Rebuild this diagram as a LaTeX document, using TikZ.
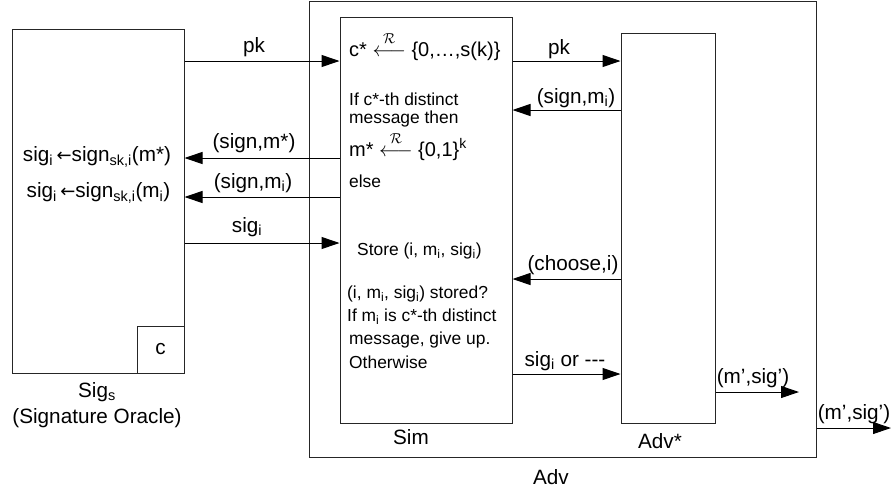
\documentclass[tikz,border=0pt]{standalone}
\usepackage{amsmath}
\usepackage{fontspec}
\setmainfont{Liberation Sans}
\newfontfamily\dejavu{DejaVu Sans}
\usetikzlibrary{arrows.meta}
\newcommand\dn[1]{\textsubscript{#1}}
\newcommand\up[1]{\textsuperscript{#1}}
\newcommand\larr{{\fontsize{18}{20}\selectfont\dejavu ←}}
\newcommand\rarr{$\overset{\raisebox{1pt}{$\scriptstyle\mathcal{R}$}}{\longleftarrow}$}
\begin{document}
\begin{tikzpicture}[x=1pt,y=-1pt,
  box/.style={draw=black!85, line width=1pt, inner sep=0pt, rectangle},
  arr/.style={-{Triangle[length=18pt,width=12pt]}, line width=1pt},
  lbl/.style={font=\fontsize{20.7}{24}\selectfont, inner sep=0pt},
  txt/.style={font=\fontsize{17.4}{20}\selectfont, inner sep=0pt, anchor=west},
  big/.style={font=\fontsize{20}{24}\selectfont, inner sep=0pt, anchor=west}]
\useasboundingbox (0,0) rectangle (892,491);
% boxes
\node[box, minimum width=172pt, minimum height=344pt] (sig) at (98,201) {};
\node[box, minimum width=47pt, minimum height=47pt] (c) at (160.5,349.5) {};
\node[lbl] at (c.center) {c};
\node[box, minimum width=507pt, minimum height=456pt] (adv) at (562.5,229.5) {};
\node[box, minimum width=172pt, minimum height=406pt] (sim) at (426,220) {};
\node[box, minimum width=94pt, minimum height=390pt] (advs) at (668,228) {};
% box labels
\node[lbl] (sigl) at (97,392) {Sig\dn{s}};
\node[lbl] (sigl2) at (97,418) {(Signature Oracle)};
\node[lbl] (siml) at (411,437) {Sim};
\node[lbl] (advsl) at (660,441) {Adv*};
\node[lbl] (advl) at (551,477) {Adv};
% Sig text
\node[lbl] (s1) at (97,157) {sig\dn{i}\,\larr sign\dn{sk,i}(m*)};
\node[lbl] (s2) at (98.5,193) {sig\dn{i}\,\larr sign\dn{sk,i}(m\dn{i})};
% Sim text
\node[big] (t1) at (349,46) {c* \rarr\ \{0,…,s(k)\}};
\node[txt] (t2) at (349,99) {If c*-th distinct};
\node[txt] (t3) at (349,119) {message then};
\node[big] (t4) at (349,146) {m* \rarr\ \{0,1\}\up{k}};
\node[txt] (t5) at (349,181) {else};
\node[txt] (t6) at (357,251) {Store (i, m\dn{i}, sig\dn{i})};
\node[txt] (t7) at (347,294) {(i, m\dn{i}, sig\dn{i}) stored?};
\node[txt] (t8) at (347,317) {If m\dn{i} is c*-th distinct};
\node[txt] (t9) at (349,340) {message, give up.};
\node[txt] (t10) at (349,362) {Otherwise};
% connectors Sig <-> Sim
\draw[arr] (sig.east |- 0,61) -- (sim.west |- 0,61);
\node[lbl] at (254,47) {pk};
\draw[arr] (sim.west |- 0,158) -- (sig.east |- 0,158);
\node[lbl] at (254,143) {(sign,m*)};
\draw[arr] (sim.west |- 0,197) -- (sig.east |- 0,197);
\node[lbl] at (253,183) {(sign,m\dn{i})};
\draw[arr] (sig.east |- 0,243) -- (sim.west |- 0,243);
\node[lbl] at (247,227) {sig\dn{i}};
% connectors Sim <-> Adv*
\draw[arr] (sim.east |- 0,61) -- (advs.west |- 0,61);
\node[lbl] at (559,49) {pk};
\draw[arr] (advs.west |- 0,110) -- (sim.east |- 0,110);
\node[lbl] at (576,98) {(sign,m\dn{i})};
\draw[arr] (advs.west |- 0,279) -- (sim.east |- 0,279);
\node[lbl] at (573,265) {(choose,i)};
\draw[arr] (sim.east |- 0,374) -- (advs.west |- 0,374);
\node[lbl] at (565,361) {sig\dn{i} or -{}-{}-};
% outputs
\coordinate (o1) at (799,392);
\draw[arr] (advs.east |- o1) -- (o1);
\node[lbl] at (753,378) {(m’,sig’)};
\coordinate (o2) at (891,428);
\draw[arr] (adv.east |- o2) -- (o2);
\node[lbl] at (854,414) {(m’,sig’)};
\end{tikzpicture}
\end{document}
